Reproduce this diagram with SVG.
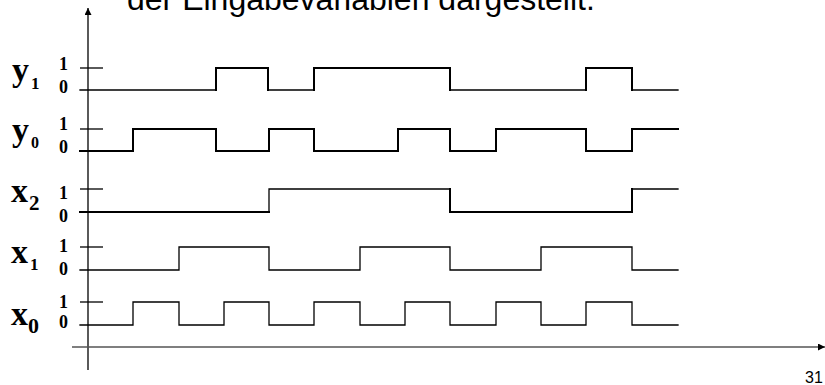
<svg xmlns="http://www.w3.org/2000/svg" width="825" height="385" viewBox="0 0 825 385">
<style>
.sig{fill:none;stroke:#000;stroke-width:1.3;stroke-linejoin:miter;stroke-linecap:square}
.thick{stroke-width:2}
.tick{stroke:#000;stroke-width:1.3}
.lab{font-family:"Liberation Serif","Times New Roman",serif;font-weight:bold;fill:#000}
.big{font-size:34px}
.lvl{font-size:18px}
.title{font-family:"Liberation Sans",Arial,sans-serif;font-size:32px;fill:#000}
.page{font-family:"Liberation Sans",Arial,sans-serif;font-size:16px;fill:#000}
</style>
<defs>
<marker id="ah" viewBox="0 0 10 10" refX="10" refY="5" markerWidth="7" markerHeight="7" markerUnits="userSpaceOnUse" orient="auto">
<path d="M0,0 L10,5 L0,10 z" fill="#000"/>
</marker>
</defs>
<rect width="825" height="385" fill="#fff"/>
<text class="title" x="127" y="10">der Eingabevariablen dargestellt.</text>
<g id="axes">
<line x1="88" y1="370" x2="88" y2="8" stroke="#000" stroke-width="1.3" marker-end="url(#ah)"/>
<line x1="72" y1="347" x2="825" y2="347" stroke="#555" stroke-width="1.6" marker-end="url(#ah)"/>
</g>
<g id="sig-y1">
<text class="lab big" x="12" y="81">y</text><text class="lab" font-size="17" x="31" y="89">1</text>
<text class="lab lvl" x="59" y="70">1</text><text class="lab lvl" x="59" y="93">0</text>
<line class="tick thick" x1="80" y1="68" x2="103" y2="68"/>
<path class="sig" d="M80,90 H216 V68 H268 V90 H314 V68 H450 V90 H586 V68 H632 V90 H678"/>
<path class="sig thick" d="M216,90 V68 H268 V90 M314,90 V68 H450 V90 M586,90 V68 H632 V90"/>
</g>
<g id="sig-y0">
<text class="lab big" x="12" y="141">y</text><text class="lab" font-size="16" x="31" y="148">0</text>
<text class="lab lvl" x="59" y="130">1</text><text class="lab lvl" x="59" y="153">0</text>
<line class="tick thick" x1="80" y1="129" x2="103" y2="129"/>
<path class="sig thick" d="M80,151 H133 V129 H216 V151 H269 V129 H314 V151 H398 V129 H450 V151 H496 V129 H586 V151 H632 V129 H678"/>
</g>
<g id="sig-x2">
<text class="lab big" x="11" y="202">x</text><text class="lab" font-size="21" x="29" y="210">2</text>
<text class="lab lvl" x="59" y="199">1</text><text class="lab lvl" x="59" y="222">0</text>
<line class="tick" x1="80" y1="189" x2="103" y2="189"/>
<path class="sig thick" d="M80,212 H269 M450,189 V212 H632 V189"/>
<path class="sig" d="M269,212 V189 H450 M632,189 H678"/>
</g>
<g id="sig-x1">
<text class="lab big" x="11" y="263">x</text><text class="lab" font-size="17" x="30" y="270">1</text>
<text class="lab lvl" x="59" y="252">1</text><text class="lab lvl" x="59" y="275">0</text>
<line class="tick" x1="80" y1="247" x2="103" y2="247"/>
<path class="sig" d="M80,270 H179 V247 H269 V270 H360 V247 H450 V270 H541 V247 H632 V270 H678"/>
</g>
<g id="sig-x0">
<text class="lab big" x="11" y="325">x</text><text class="lab" font-size="22" x="28" y="333">0</text>
<text class="lab lvl" x="59" y="308">1</text><text class="lab lvl" x="59" y="328">0</text>
<line class="tick" x1="80" y1="302" x2="103" y2="302"/>
<path class="sig" d="M80,325 H133 V302 H179 V325 H224 V302 H269 V325 H314 V302 H360 V325 H405 V302 H450 V325 H496 V302 H541 V325 H586 V302 H632 V325 H678"/>
</g>
<text class="page" x="805" y="383">31</text>
</svg>
